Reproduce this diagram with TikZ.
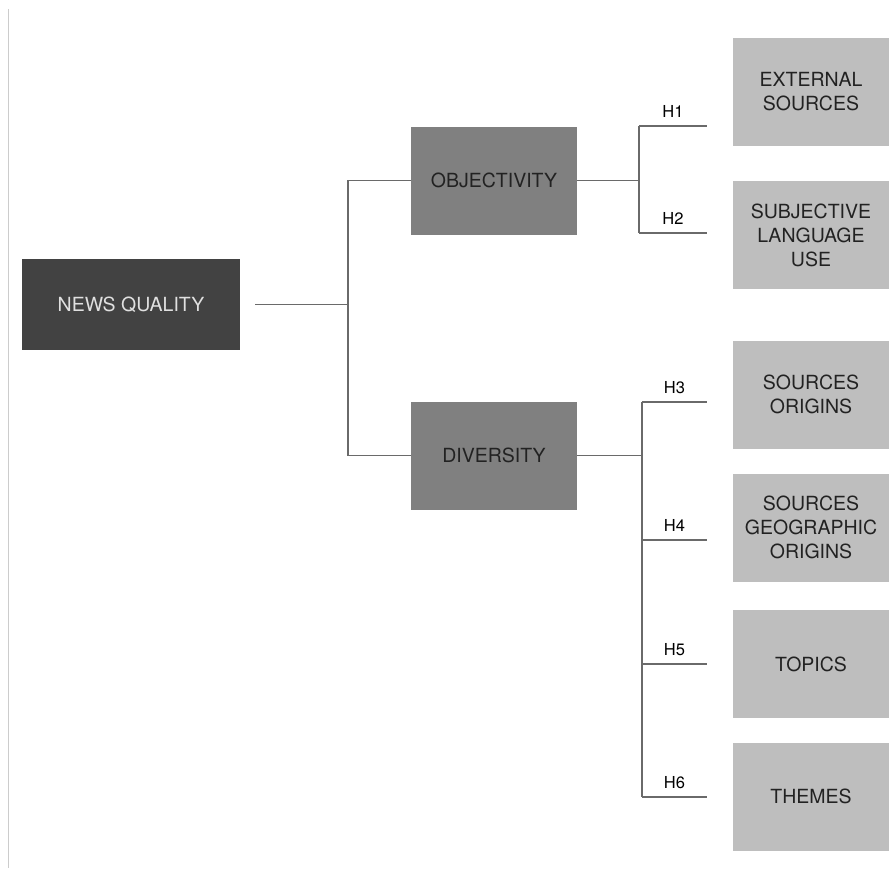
\documentclass[tikz,border=0pt]{standalone}
\usepackage{fontspec}
\setmainfont{TeX Gyre Heros}

\definecolor{qualgray}{HTML}{424242}
\definecolor{dimgray}{HTML}{808080}
\definecolor{hypgray}{HTML}{BEBEBE}
\definecolor{linegray}{HTML}{6A6A6A}
\definecolor{railgray}{HTML}{CCCCCC}
\definecolor{inkgray}{HTML}{222222}

\begin{document}
\begin{tikzpicture}[x=1pt,y=-1pt,
  box/.style={rectangle,inner sep=0pt,align=center,
    font=\fontsize{19.5}{24}\selectfont},
  topbox/.style={box,fill=qualgray,text=white!88!black,
    minimum width=218pt,minimum height=91pt},
  dimbox/.style={box,fill=dimgray,text=inkgray,
    minimum width=166pt,minimum height=108pt},
  hypbox/.style={box,fill=hypgray,text=inkgray,
    minimum width=156pt,minimum height=108pt},
  link/.style={draw=linegray,line width=1.2pt},
  hlab/.style={above=8pt,inner sep=0pt,
    font=\fontsize{16.5}{16.5}\selectfont,text=black}]

  \useasboundingbox (0,0) rectangle (889,868);
  \draw[railgray,line width=1.6pt] (8.5,9) -- (8.5,868);

  % main boxes
  \node[topbox] (nq) at (131,304.5) {NEWS QUALITY};
  \node[dimbox] (obj) at (494,180.5) {OBJECTIVITY};
  \node[dimbox] (div) at (494,455.5) {DIVERSITY};

  % hypothesis boxes
  \foreach \y/\name/\txt in {92/ext/{EXTERNAL\\SOURCES},
      235/subj/{SUBJECTIVE\\LANGUAGE\\USE},
      394.5/orig/{SOURCES\\ORIGINS},
      527.5/geo/{SOURCES\\GEOGRAPHIC\\ORIGINS},
      664/top/{TOPICS},
      796.5/them/{THEMES}} {
    \node[hypbox] (\name) at (811,\y) {\txt};
  }

  % junctions
  \coordinate (j0) at (348,304.5);
  \coordinate (j1) at (639,180.5);
  \coordinate (j2) at (642,455.5);

  \draw[link] ([xshift=15pt]nq.east) -- (j0);
  \draw[link] (obj.west) -| (j0) |- (div.west);
  \draw[link] (obj.east) -- (j1);
  \draw[link] (div.east) -- (j2);

  % hypothesis lines
  \foreach \y [count=\i] in {126,233,402,540,664,797}
    \coordinate (h\i) at (707,\y);

  \draw[link] (j1|-h1) -- (j1|-h2);
  \draw[link] (j2|-h3) -- (j2|-h6);
  \foreach \i/\j in {1/1,2/1,3/2,4/2,5/2,6/2}
    \draw[link] (j\j|-h\i) -- node[hlab]{H\i} (h\i);

\end{tikzpicture}
\end{document}
